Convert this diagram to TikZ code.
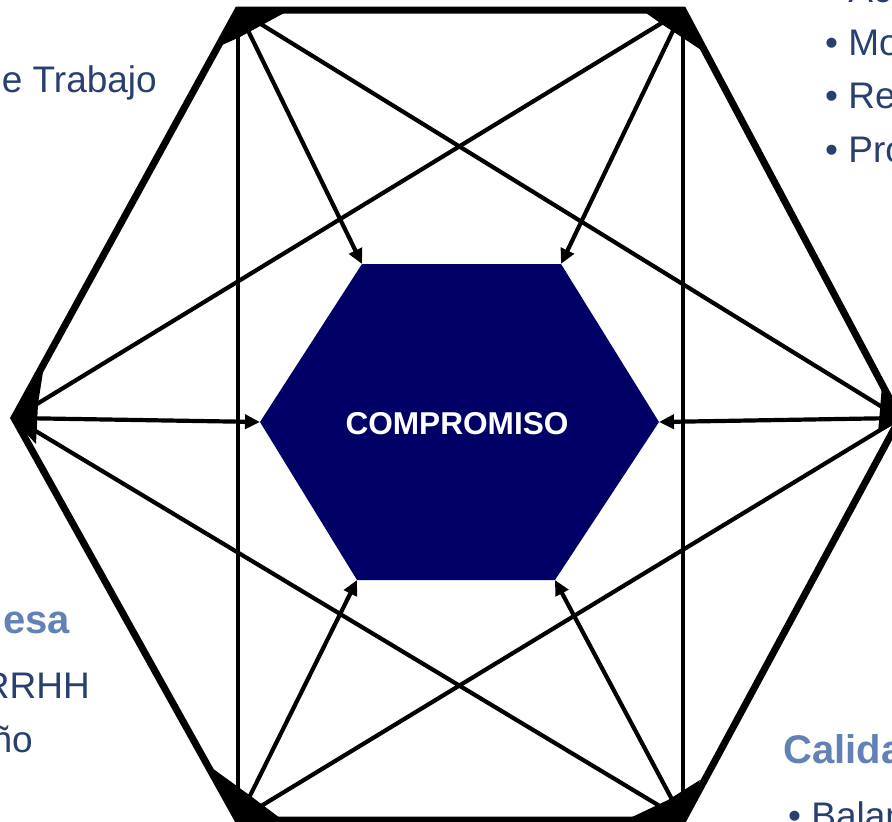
\documentclass[tikz,border=0pt]{standalone}
\usepackage{fontspec}
\setmainfont{Liberation Sans}
\usetikzlibrary{arrows.meta}
\definecolor{navy}{RGB}{0,0,102}
\definecolor{bodyblue}{RGB}{41,63,112}
\definecolor{headblue}{RGB}{98,130,182}
\begin{document}
\begin{tikzpicture}[x=1pt,y=-1pt,
  edge/.style={line width=7pt, line join=miter},
  conn/.style={line width=4.2pt},
  arr/.style={conn,-{Triangle[length=15pt,width=14pt]}},
  blob/.style={fill=black},
  body/.style={text=bodyblue, font=\fontsize{37}{37}\selectfont, inner sep=0pt},
  head/.style={text=headblue, font=\bfseries\fontsize{40}{40}\selectfont, inner sep=0pt}]
\useasboundingbox (0,0) rectangle (892,822);
\clip (0,0) rectangle (892,822);
% outer vertices
\coordinate (TL) at (238,10);
\coordinate (TR) at (683,10);
\coordinate (R)  at (900,418);
\coordinate (BR) at (683,820);
\coordinate (BL) at (238,820);
\coordinate (L)  at (14,418);
% inner hexagon vertices
\coordinate (a1) at (362,264);
\coordinate (a2) at (561,264);
\coordinate (a3) at (659,422);
\coordinate (a4) at (555,580);
\coordinate (a5) at (357,580);
\coordinate (a6) at (260,422);
% inner hexagon
\fill[navy] (a1)--(a2)--(a3)--(a4)--(a5)--(a6)--cycle;
\node[text=white, font=\bfseries\fontsize{31.6}{31.6}\selectfont, inner sep=0pt] (core) at (457,424) {COMPROMISO};
% outer hexagon
\draw[edge] (TL)--(TR)--(R)--(BR)--(BL)--(L)--cycle;
% cross connectors
\draw[conn] (TL)--(BL);
\draw[conn] (TR)--(BR);
\draw[conn] (TL)--(R);
\draw[conn] (TR)--(L);
\draw[conn] (L)--(BR);
\draw[conn] (R)--(BL);
% arrows to centre
\draw[arr] (TL)--(a1);
\draw[arr] (TR)--(a2);
\draw[arr] (R)--(a3);
\draw[arr] (BR)--(a4);
\draw[arr] (BL)--(a5);
\draw[arr] (L)--(a6);
% vertex blobs
\fill[blob] (236,7)--(286,12)--(262,25)--(240,37)--(222,45)--cycle;
\fill[blob] (646,13)--(682,7)--(701,50)--(683,38)--(663,25)--cycle;
\fill[blob] (12,418)--(43,372)--(38,404)--(36,444)--cycle;
\fill[blob] (882,384)--(905,418)--(878,433)--(880,410)--cycle;
\fill[blob] (212,768)--(252,797)--(280,818)--(237,826)--cycle;
\fill[blob] (630,818)--(668,800)--(700,780)--(684,826)--cycle;
% texts
\node[body, anchor=base east] (t1) at (157,92) {e Trabajo};
\node[body, anchor=base west] (t2) at (825,2) {• Ac};
\node[body, anchor=base west] (t3) at (825,55) {• Mo};
\node[body, anchor=base west] (t4) at (825,108) {• Re};
\node[body, anchor=base west] (t5) at (825,162) {• Pro};
\node[head, anchor=base east] (t6) at (70,633) {esa};
\node[body, anchor=base east] (t7) at (90,698) {RRHH};
\node[body, anchor=base east] (t8) at (33,752) {ño};
\node[head, anchor=base west] (t9) at (783,763) {Calida};
\node[body, anchor=base west] (t10) at (788,828) {• Balan};
\end{tikzpicture}
\end{document}
